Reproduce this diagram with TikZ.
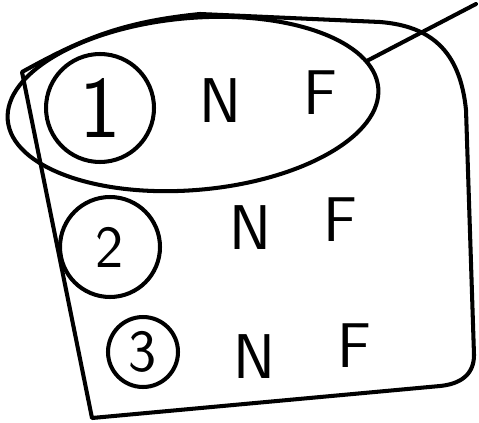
\documentclass[tikz,border=0pt]{standalone}
\usepackage{tikz}
\usetikzlibrary{shapes.geometric}
\tikzset{
  sketch/.style={line width=2.3pt, line cap=round, line join=round},
  numcirc/.style={draw, circle, sketch, inner sep=0pt, font=\sffamily\fontsize{34}{34}\selectfont},
  letter/.style={font=\sffamily\fontsize{36}{36}\selectfont, inner sep=0pt},
  groupring/.style={draw, ellipse, sketch, minimum width=7.44cm, minimum height=3.44cm, rotate=5}
}
\begin{document}
\begin{tikzpicture}[x=0.02cm, y=-0.02cm]
  \useasboundingbox (0,0) rectangle (479,422);
  % outer frame
  \draw[sketch] (22,72) .. controls (80,40) and (120,22) .. (200,14) -- (380,22)
    .. controls (430,26) and (460,50) .. (466,110) -- (474,355)
    .. controls (474,375) and (460,384) .. (440,386) -- (92,418) -- cycle;
  % first row with its ring
  \node[groupring] (grp) at (193,104) {};
  \node[numcirc, minimum size=2.16cm, font=\sffamily\fontsize{50}{50}\selectfont] (c1) at (100,108) {1};
  \node[letter] (n1) at (220,101) {N};
  \node[letter] (f1) at (320,93) {F};
  % other rows
  \node[numcirc, minimum size=2.0cm] (c2) at (110,247) {2};
  \node[letter] (n2) at (250,228) {N};
  \node[letter] (f2) at (340,220) {F};
  \node[numcirc, minimum size=1.4cm] (c3) at (143,352) {3};
  \node[letter] (n3) at (254,357) {N};
  \node[letter] (f3) at (354,346) {F};
  % pointer out of the ring
  \coordinate (tip) at (476,4);
  \draw[sketch] (grp.9) -- (tip);
\end{tikzpicture}
\end{document}
